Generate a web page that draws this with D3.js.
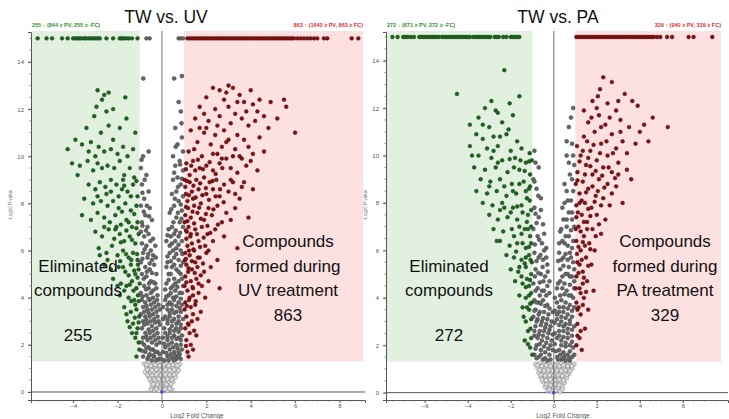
<!DOCTYPE html>
<html><head><meta charset="utf-8">
<script src="https://cdn.jsdelivr.net/npm/d3@7"></script>
<style>body{margin:0;background:#fff}svg{display:block}text{font-family:"Liberation Sans",Arial,sans-serif}</style>
</head><body><svg id="c" width="729" height="419"></svg>
<script>
// ---------- Panel 1: TW vs. UV ----------
const uvTitle = "TW vs. UV";
const uvDownLabel = "255 \u2193 (844 \u2265 PV, 255 \u2265 -FC)";
const uvUpLabel = "863 \u2191 (1643 \u2265 PV, 863 \u2265 FC)";
const uvLeftText = ["Eliminated", "compounds", "", "255"];
const uvRightText = ["Compounds", "formed during", "UV treatment", "863"];
const uvTopDownX = [-5.6,-5.2,-4.95,-4.5,-4.25,-4.0,-3.9,-3.8,-3.72,-3.62,-3.5,-3.42,-3.3,-3.2,-3.1,-3.0,-2.9,-2.8,-2.5,-2.2,-1.9,-1.82,-1.72,-1.62,-1.5,-1.35,-1.1];
const uvTopNsX = [-0.7,-0.55,0.75,0.85,0.95];
const uvTopUpX = [1.15,1.25,1.35,1.45,1.55,1.65,1.75,1.85,1.95,2.05,2.15,2.25,2.35,2.45,2.55,2.65,2.75,2.85,2.95,3.05,3.15,3.25,3.35,3.45,3.55,3.65,3.75,3.85,3.95,4.05,4.15,4.25,4.35,4.45,4.55,4.65,4.75,4.85,4.95,5.05,5.15,5.25,5.35,5.45,5.55,5.65,5.75,5.85,5.95,6.1,6.25,6.4,6.55,6.7,6.85,7.0,7.3,7.45,8.55,8.85];
const uvDown = [[-2.9,12.8],[-2.7,12.4],[-2.6,12.6],[-2.95,12.1],[-2.5,11.9],[-3.05,11.7],[-2.2,12.0],[-1.65,12.5],[-1.6,11.6],[-2.4,11.3],[-3.4,11.2],[-2.75,11.0],[-4.25,10.3],[-3.9,10.7],[-3.6,10.5],[-3.2,10.6],[-2.85,10.4],[-2.6,10.2],[-2.3,10.3],[-2.0,10.1],[-1.75,10.4],[-1.55,10.0],[-4.05,9.7],[-3.7,9.6],[-3.35,9.8],[-3.1,9.4],[-2.9,9.7],[-2.7,9.5],[-2.45,9.6],[-2.15,9.5],[-1.9,9.8],[-1.7,9.2],[-1.45,9.5],[-1.25,9.1],
[-3.3,8.8],[-3.0,8.6],[-2.8,8.9],[-2.55,8.7],[-2.3,8.5],[-2.05,8.8],[-1.8,8.6],[-1.55,8.5],[-1.3,8.8],[-1.1,8.3],[-3.5,8.2],[-3.1,8.0],[-2.75,8.1],[-2.45,7.9],[-2.2,8.1],[-1.95,7.8],[-1.65,8.0],[-1.4,7.7],[-1.15,7.9],[-3.6,7.5],[-3.2,7.3],[-2.9,7.6],[-2.6,7.4],[-2.35,7.2],[-2.1,7.5],[-1.85,7.1],[-1.6,7.3],[-1.35,7.0],[-1.1,7.2],[-3.0,6.8],[-2.7,6.6],[-2.4,6.9],[-2.15,6.5],[-1.9,6.7],[-1.7,6.4],[-1.45,6.6],[-1.2,6.3],[-1.05,6.7],[-2.85,6.1],[-2.5,5.9],[-2.25,6.2],[-2.0,5.8],[-1.75,6.0],[-1.5,5.7],[-1.3,5.9],[-1.1,5.6],[-2.6,5.4],[-2.3,5.2],[-1.95,5.3],[-1.65,5.1],[-1.4,5.4],[-1.2,5.0],[-1.05,5.2],
[-2.2,4.8],[-1.85,4.6],[-1.6,4.5],[-1.35,4.7],[-1.15,4.4],[-1.0,4.6],[-1.9,4.1],[-1.5,4.0],[-1.25,3.9],[-1.08,4.1],[-1.7,3.6],[-1.4,3.4],[-1.15,3.5],[-1.02,3.2],[-1.55,3.0],[-1.3,2.9],[-1.1,2.7],[-1.2,2.3],[-1.05,2.1],[-1.35,2.5],[-1.6,3.3],
[-1.15,8.95],[-1.4,8.3],[-1.7,8.75],[-1.95,8.3],[-1.25,7.55],[-1.5,7.2],[-1.8,7.65],[-2.05,7.0],[-1.15,6.95],[-1.35,6.45],[-1.6,6.85],[-1.85,6.35],[-2.1,6.9],[-1.12,5.85],[-1.38,5.6],[-1.62,5.85],[-1.88,5.55],[-1.08,5.4],[-1.25,5.15],[-1.5,4.95],[-1.75,5.3],[-1.1,4.85],[-1.28,4.3],[-1.45,4.55],[-1.7,4.3],[-1.05,3.85],[-1.2,3.7],[-1.38,3.85],[-1.05,2.95],[-1.22,3.15],[-1.45,2.75],[-1.15,2.5],[-1.02,1.8],[-1.15,1.5],[-2.3,9.0],[-2.5,8.4],[-2.9,8.3],[-3.0,10.0],[-2.2,10.7],[-1.9,11.2],[-2.4,12.7],[-3.3,10.2],[-3.8,9.2],[-2.6,7.0],[-2.45,5.6],[-2.8,5.8],[-2.0,4.5],[-1.75,9.0],[-1.3,10.3],[-1.2,11.0]];
const uvUp = [[2.3,12.9],[2.6,12.8],[3.2,12.9],[2.0,12.5],[2.8,12.4],[3.5,12.6],[4.0,12.8],[4.1,12.2],[3.7,12.3],[1.7,12.1],[2.4,12.0],[3.0,12.1],[3.3,11.8],[4.3,11.9],[4.6,11.7],[5.5,12.4],[5.6,12.1],[1.5,11.6],[2.1,11.5],[2.6,11.7],[3.1,11.4],[3.6,11.6],[3.9,11.3],[4.2,11.5],[4.8,11.2],[6.0,11.0],[1.3,11.1],[1.9,11.0],[2.4,10.9],[2.8,11.1],[3.4,10.9],[3.7,10.7],[4.4,10.8],[1.6,10.6],[2.2,10.5],[2.7,10.4],[3.0,10.7],[3.3,10.3],[3.9,10.4],[4.1,10.1],[1.2,10.2],[1.8,10.0],[2.5,10.1],[2.9,9.9],[3.5,10.0],[4.6,10.2],
[1.1,9.7],[1.4,9.8],[1.7,9.5],[2.0,9.6],[2.3,9.4],[2.6,9.7],[3.1,9.5],[3.4,9.3],[3.8,9.6],[4.3,9.4],[1.25,9.2],[1.55,9.0],[1.9,9.1],[2.15,8.9],[2.45,9.0],[2.8,8.8],[3.2,8.9],[3.6,8.7],[1.05,8.7],[1.35,8.5],[1.65,8.6],[2.0,8.4],[2.3,8.6],[2.6,8.3],[3.0,8.5],[3.5,8.2],[4.1,8.6],[1.15,8.1],[1.45,7.9],[1.75,8.0],[2.1,7.8],[2.5,7.9],[2.9,7.6],[3.3,7.8],[1.05,7.5],[1.3,7.4],[1.6,7.6],[1.9,7.3],[2.25,7.5],[2.7,7.2],[3.1,7.3],[3.9,7.4],[1.2,7.0],[1.5,6.9],[1.8,7.0],[2.05,6.7],[2.4,6.9],[2.8,6.6],[1.1,6.5],[1.35,6.3],[1.65,6.4],[1.95,6.2],[2.3,6.4],[3.4,6.1],
[1.05,5.9],[1.25,5.8],[1.45,6.0],[1.7,5.7],[2.0,5.9],[2.5,5.6],[1.1,5.4],[1.35,5.2],[1.6,5.3],[1.9,5.1],[2.2,5.3],[1.05,4.9],[1.3,4.7],[1.55,4.8],[1.8,4.5],[2.1,4.7],[2.6,4.4],[1.15,4.3],[1.4,4.1],[1.65,4.2],[1.95,4.0],[1.05,3.8],[1.3,3.6],[1.5,3.7],[1.75,3.4],[1.1,3.2],[1.35,3.0],[1.6,3.1],[1.05,2.7],[1.25,2.5],[1.45,2.6],[1.1,2.2],[1.3,2.0],[1.15,1.7],
[1.02,9.0],[1.08,8.4],[1.18,7.8],[1.02,7.2],[1.12,6.8],[1.22,6.0],[1.04,5.6],[1.18,5.1],[1.02,4.5],[1.22,3.9],[1.02,3.5],[1.18,2.9],[1.4,4.4],[1.5,5.5],[1.3,6.7],[1.4,8.2],[1.25,8.9],[1.5,9.4],
[1.08,9.45],[1.32,9.6],[1.62,9.85],[1.85,9.45],[2.15,9.75],[2.42,9.25],[2.72,9.5],[1.12,8.95],[1.42,8.75],[1.72,8.85],[1.98,8.65],[2.28,8.95],[2.62,8.6],[1.22,8.35],[1.52,8.25],[1.82,8.35],[2.12,8.15],[2.42,8.3],[2.78,8.05],[1.08,7.85],[1.38,7.65],[1.68,7.82],[1.98,7.55],[2.32,7.75],[1.15,7.25],[1.45,7.15],[1.75,7.35],[2.05,7.05],[2.52,7.1],[1.08,6.85],[1.28,6.6],[1.58,6.7],[1.88,6.55],[2.18,6.75],[1.15,6.2],[1.42,6.05],[1.72,6.15],[2.1,6.0],[1.08,5.65],[1.35,5.55],[1.62,5.7],[1.85,5.45],[1.2,5.25],[1.48,5.05],[1.75,4.95],[1.1,4.65],[1.38,4.45],[1.65,4.6],[1.25,4.0],[1.52,3.85],[1.12,3.65],[1.4,3.3],[1.2,2.85],[1.55,2.4],[1.08,1.95],[1.2,1.5],[1.4,1.8],[2.9,10.6],[3.2,10.0],[3.6,9.9],[2.5,11.3],[2.0,11.2],[3.8,11.9],[4.4,12.4],[2.9,12.7],[3.4,12.3],[1.9,11.8],[2.7,9.9],[3.1,9.0],[3.7,8.9],[4.0,9.8],[3.3,8.4],[2.3,10.1],[1.45,10.3],[1.7,11.2],[5.2,11.6],[4.9,12.3],[3.0,13.0]];
const uvSig = [[-0.84,13.3],[0.55,13.3],[0.9,13.4],[0.75,12.3],[0.85,11.9],[0.6,11.2],[0.9,10.8],[0.7,10.5],[-0.85,10.0],[-0.6,10.2],[0.95,10.2],[0.5,10.0],
[-0.95,9.5],[-0.7,9.2],[-0.9,8.8],[-0.6,8.5],[-0.8,8.2],[-0.95,7.9],[-0.55,7.8],[-0.75,7.5],[-0.9,7.2],[-0.45,7.3],[-0.65,7.0],
[0.8,9.8],[0.6,9.6],[0.95,9.4],[0.7,9.1],[0.5,9.0],[0.85,8.8],[0.65,8.5],[0.95,8.3],[0.45,8.4],[0.75,8.1],[0.55,7.9],[0.9,7.7],[0.35,7.6],[0.65,7.4],[0.8,7.2],[0.45,7.0],[0.95,7.0],
[-0.95,6.8],[-0.8,6.6],[-0.6,6.7],[-0.4,6.5],[-0.9,6.3],[-0.7,6.2],[-0.5,6.0],[-0.3,6.2],[-0.85,5.9],[-0.65,5.7],[-0.45,5.6],[-0.95,5.5],[-0.75,5.3],[-0.55,5.2],[-0.35,5.4],[-0.25,5.0],[-0.9,5.0],[-0.7,4.9],[-0.5,4.7],[-0.8,4.5],[-0.6,4.4],[-0.4,4.3],[-0.3,4.6],[-0.95,4.2],[-0.7,4.1],[-0.2,4.1],
[0.3,6.9],[0.55,6.7],[0.75,6.6],[0.9,6.4],[0.2,6.4],[0.45,6.3],[0.65,6.1],[0.85,6.0],[0.35,5.9],[0.55,5.7],[0.75,5.6],[0.95,5.5],[0.25,5.5],[0.45,5.3],[0.65,5.2],[0.85,5.0],[0.3,5.0],[0.55,4.8],[0.75,4.7],[0.95,4.5],[0.2,4.6],[0.4,4.4],[0.6,4.3],[0.8,4.2],[0.3,4.1],[0.5,4.0],
[-0.9,3.9],[-0.75,3.8],[-0.55,3.9],[-0.35,3.8],[-0.15,3.7],[-0.85,3.6],[-0.65,3.5],[-0.45,3.5],[-0.25,3.4],[-0.95,3.3],[-0.75,3.2],[-0.55,3.2],[-0.35,3.1],[-0.15,3.0],[-0.85,3.0],[-0.65,2.9],[-0.45,2.8],[-0.25,2.7],[-0.9,2.7],[-0.75,2.5],[-0.55,2.5],[-0.35,2.4],[-0.15,2.3],[-0.85,2.3],[-0.65,2.2],[-0.45,2.1],[-0.25,2.0],[-0.8,2.0],[-0.6,1.9],[-0.4,1.8],[-0.2,1.7],[-0.75,1.7],[-0.55,1.6],[-0.35,1.5],[-0.15,1.4],[-0.65,1.4],[-0.45,1.35],[-0.85,1.5],
[0.15,3.9],[0.35,3.8],[0.55,3.9],[0.75,3.8],[0.9,3.7],[0.25,3.5],[0.45,3.5],[0.65,3.4],[0.85,3.4],[0.15,3.2],[0.35,3.2],[0.55,3.1],[0.75,3.0],[0.95,3.1],[0.25,2.9],[0.45,2.8],[0.65,2.7],[0.85,2.7],[0.15,2.5],[0.35,2.5],[0.55,2.4],[0.75,2.3],[0.9,2.4],[0.25,2.2],[0.45,2.1],[0.65,2.0],[0.85,2.0],[0.15,1.9],[0.35,1.8],[0.55,1.7],[0.75,1.7],[0.25,1.5],[0.45,1.45],[0.65,1.4],[0.85,1.4],[0.1,1.35],
[-0.92,9.85],[-0.78,9.0],[-0.88,8.45],[-0.68,7.9],[-0.82,7.65],[-0.58,7.45],[-0.88,7.05],[-0.72,6.85],[-0.52,6.4],[-0.78,6.05],[-0.62,5.85],[-0.4,5.8],[-0.88,5.65],[-0.55,5.45],[-0.28,5.7],[-0.68,5.1],[-0.45,5.05],[-0.82,4.8],[-0.58,4.6],[-0.38,4.65],[-0.72,4.35],[-0.5,4.2],[-0.25,4.4],[-0.88,4.05],[-0.6,3.95],[-0.4,4.0],[-0.22,3.9],[-0.7,3.65],[-0.5,3.7],[-0.3,3.6],[-0.1,3.5],[-0.8,3.4],[-0.6,3.35],[-0.4,3.3],[-0.2,3.2],[-0.7,3.05],[-0.5,3.0],[-0.3,2.95],[-0.1,2.85],[-0.8,2.85],[-0.6,2.65],[-0.4,2.6],[-0.2,2.5],[-0.7,2.35],[-0.5,2.3],[-0.3,2.2],[-0.1,2.1],[-0.9,2.1],[-0.7,1.85],[-0.5,1.8],[-0.3,1.7],[-0.1,1.6],[-0.9,1.75],[-0.6,1.5],[-0.4,1.55],[-0.25,1.35],[-0.05,1.4],
[0.88,11.4],[0.62,10.4],[0.82,9.65],[0.55,9.3],[0.9,9.05],[0.72,8.7],[0.58,8.2],[0.85,7.95],[0.42,7.75],[0.72,7.6],[0.52,7.2],[0.88,7.35],[0.62,6.85],[0.4,6.6],[0.82,6.75],[0.25,6.65],[0.6,6.4],[0.35,6.2],[0.75,6.25],[0.5,6.0],[0.92,5.85],[0.25,5.75],[0.65,5.85],[0.4,5.55],[0.85,5.35],[0.55,5.4],[0.2,5.3],[0.75,5.1],[0.4,5.0],[0.6,4.6],[0.9,4.8],[0.3,4.75],[0.5,4.5],[0.7,4.45],[0.15,4.35],[0.9,4.2],[0.4,4.2],[0.65,4.05],[0.2,4.05],[0.85,3.95],[0.45,3.7],[0.25,3.7],[0.65,3.65],[0.05,3.6],[0.8,3.55],[0.35,3.35],[0.55,3.35],[0.75,3.2],[0.05,3.1],[0.25,3.05],[0.45,3.0],[0.65,2.9],[0.85,2.85],[0.1,2.7],[0.35,2.65],[0.55,2.6],[0.75,2.55],[0.05,2.3],[0.25,2.35],[0.45,2.3],[0.65,2.25],[0.85,2.2],[0.1,2.05],[0.3,2.0],[0.5,1.9],[0.7,1.85],[0.9,1.8],[0.05,1.7],[0.2,1.65],[0.4,1.6],[0.6,1.55],[0.8,1.6],[0.3,1.35],[0.55,1.35],[0.75,1.5]];
const uvNs = [[-0.8,1.2],[-0.6,1.25],[-0.4,1.2],[-0.2,1.25],[0.0,1.2],[0.2,1.22],[0.4,1.25],[0.6,1.2],[0.8,1.18],[-0.7,1.05],[-0.5,1.0],[-0.3,1.05],[-0.1,1.0],[0.1,1.05],[0.3,1.0],[0.5,1.05],[0.7,1.0],[-0.75,0.85],[-0.55,0.8],[-0.35,0.85],[-0.15,0.8],[0.05,0.85],[0.25,0.8],[0.45,0.85],[0.65,0.8],[-0.6,0.65],[-0.4,0.6],[-0.2,0.65],[0.0,0.6],[0.2,0.65],[0.4,0.6],[0.6,0.62],[-0.5,0.45],[-0.3,0.4],[-0.1,0.45],[0.1,0.4],[0.3,0.45],[0.5,0.42],[-0.45,0.25],[-0.25,0.2],[-0.05,0.25],[0.15,0.2],[0.35,0.25],[0.45,0.1],[-0.35,0.08],[-0.15,0.05],[0.05,0.08],[0.25,0.05],[-0.5,0.1],
[-0.7,1.15],[-0.5,1.12],[-0.3,1.15],[-0.1,1.12],[0.1,1.15],[0.3,1.12],[0.5,1.15],[0.7,1.12],[-0.65,0.95],[-0.45,0.92],[-0.25,0.95],[-0.05,0.92],[0.15,0.95],[0.35,0.92],[0.55,0.95],[0.75,0.92],[-0.65,0.72],[-0.45,0.72],[-0.25,0.74],[-0.05,0.72],[0.15,0.74],[0.35,0.72],[0.55,0.74],[-0.55,0.55],[-0.35,0.52],[-0.15,0.55],[0.05,0.52],[0.25,0.55],[0.45,0.52],[-0.4,0.33],[-0.2,0.32],[0.0,0.34],[0.2,0.32],[0.4,0.34],[-0.25,0.12],[0.15,0.12],[0.35,0.14]];

// ---------- Panel 2: TW vs. PA ----------
const paTitle = "TW vs. PA";
const paDownLabel = "272 \u2193 (671 \u2265 PV, 272 \u2265 -FC)";
const paUpLabel = "329 \u2191 (940 \u2265 PV, 329 \u2265 FC)";
const paLeftText = ["Eliminated", "compounds", "", "272"];
const paRightText = ["Compounds", "formed during", "PA treatment", "329"];
const paTopDownX = [-7.5,-7.26,-7.0,-6.9,-6.8,-6.65,-6.5,-6.25,-6.15,-6.05,-5.95,-5.85,-5.75,-5.65,-5.55,-5.45,-5.35,-5.2,-5.1,-5.0,-4.9,-4.8,-4.7,-4.6,-4.5,-4.4,-4.3,-4.2,-4.1,-4.0,-3.9,-3.75,-3.65,-3.55,-3.45,-3.35,-3.25,-3.15,-3.05,-2.95,-2.75,-2.65,-2.55,-2.35,-2.2,-2.0,-1.9,-1.8,-1.7,-1.6];
const paTopNsX = [];
const paTopUpX = [1.05,1.15,1.25,1.35,1.45,1.55,1.65,1.75,1.85,1.95,2.05,2.15,2.25,2.35,2.45,2.55,2.65,2.75,2.85,2.95,3.05,3.15,3.25,3.35,3.45,3.55,3.65,3.75,3.85,3.95,4.05,4.15,4.25,4.35,4.45,4.55,4.65,4.8,4.95,5.27,5.5,6.27,6.5,7.37];
const paDown = [[-4.5,12.6],[-2.3,13.6],[-3.2,12.0],[-2.9,12.3],[-3.5,11.6],[-2.6,11.8],[-3.9,11.3],[-3.0,11.2],[-2.4,11.4],[-1.9,11.7],[-3.6,10.9],[-3.3,10.7],[-2.8,10.8],[-2.2,10.9],[-1.7,10.6],[-3.9,10.4],[-3.1,10.3],[-2.6,10.4],[-2.0,10.2],[-1.5,10.3],[-3.5,10.0],[-2.9,9.9],[-2.4,9.8],[-1.8,9.9],[-1.3,9.7],[-3.7,9.5],[-3.2,9.4],[-2.7,9.5],[-2.15,9.3],[-1.6,9.4],[-1.1,9.2],[-3.4,9.0],[-2.95,8.9],[-2.5,9.0],[-1.95,8.8],[-1.4,8.9],[-3.6,8.5],[-3.1,8.4],[-2.65,8.5],[-2.2,8.3],[-1.75,8.4],[-1.25,8.2],[-3.3,8.0],[-2.85,7.9],[-2.4,8.0],[-1.9,7.8],[-1.5,7.9],[-1.05,7.7],[-3.0,7.5],[-2.6,7.3],[-2.15,7.4],[-1.7,7.3],[-1.25,7.2],[-2.8,6.9],[-2.35,6.8],[-1.95,6.9],[-1.5,6.7],[-1.1,6.6],[-2.5,6.4],[-2.05,6.2],[-1.7,6.3],[-1.3,6.1],[-1.05,6.3],[-2.2,5.8],[-1.85,5.7],[-1.5,5.6],[-1.15,5.8],[-2.0,5.2],[-1.65,5.1],[-1.3,5.3],[-1.05,5.0],[-1.8,4.7],[-1.45,4.6],[-1.15,4.5],[-1.6,4.1],[-1.3,4.0],[-1.05,4.2],[-1.45,3.6],[-1.15,3.5],[-1.3,3.0],[-1.05,3.1],[-1.2,2.6],[-1.05,2.3],[-1.35,2.2],[-1.1,1.9],[-1.0,1.6],
[-1.02,9.8],[-1.15,8.6],[-1.05,7.0],[-1.2,6.9],[-1.02,5.5],[-1.25,4.8],[-1.02,3.8],[-1.15,4.1],[-1.3,5.7],[-1.12,10.1],
[-1.15,9.75],[-1.35,9.35],[-1.55,9.8],[-1.85,9.5],[-2.05,9.85],[-1.1,8.7],[-1.3,8.5],[-1.6,8.8],[-1.9,8.5],[-2.3,8.7],[-1.12,8.1],[-1.45,7.6],[-1.7,7.85],[-2.0,7.6],[-2.3,7.8],[-1.2,7.5],[-1.35,6.9],[-1.6,7.0],[-1.85,6.6],[-1.15,6.15],[-1.45,6.3],[-1.75,5.95],[-1.08,5.6],[-1.35,5.45],[-1.6,5.3],[-1.1,4.75],[-1.3,4.45],[-1.5,4.9],[-1.1,3.75],[-1.25,3.6],[-1.4,3.2],[-1.08,2.7],[-1.2,2.05],[-2.6,9.7],[-2.8,10.2],[-3.0,8.7],[-2.5,10.8],[-2.1,11.1],[-3.3,11.3],[-3.8,10.0],[-2.7,11.9],[-2.05,12.2],[-1.6,12.5],[-2.5,7.7],[-2.65,6.4]];
const paUp = [[2.3,13.3],[2.7,13.1],[2.15,12.8],[3.3,12.6],[3.65,12.3],[1.8,12.3],[2.5,12.2],[4.6,11.6],[5.3,11.2],[2.9,11.9],[2.1,11.7],[3.1,11.5],[1.6,11.4],[2.4,11.3],[3.5,11.2],[1.9,11.0],[2.7,10.9],[3.2,10.6],[1.4,10.8],[2.2,10.5],[2.9,10.3],[3.8,10.5],[1.7,10.2],[2.5,10.0],[1.25,10.0],[2.0,9.8],[3.0,9.7],[1.5,9.6],[2.3,9.5],[2.7,9.3],[3.4,9.4],[1.1,9.3],[1.8,9.2],[2.1,9.0],[2.5,8.8],[1.35,8.9],[1.6,8.6],[2.9,8.7],[1.2,8.4],[1.95,8.3],[2.3,8.2],[1.45,8.0],[1.75,7.8],[2.6,7.9],[1.05,7.9],[1.3,7.5],[2.0,7.5],[2.4,7.3],[1.55,7.2],[1.15,7.0],[1.8,6.9],[2.2,6.7],[1.4,6.6],[1.05,6.4],[1.65,6.3],[1.9,6.0],[1.25,6.0],[1.5,5.7],[1.1,5.5],[1.75,5.4],[1.35,5.1],[1.05,4.9],[1.55,4.7],[1.2,4.4],[1.85,4.3],[1.4,4.0],[1.05,3.8],[1.6,3.5],[1.25,3.3],[1.1,2.9],[1.45,2.7],[1.2,2.3],[1.05,2.0],[1.3,1.8],[3.6,9.0],[4.0,11.0],[2.05,12.5],
[1.02,8.8],[1.12,7.6],[1.02,6.9],[1.2,5.4],[1.02,4.4],[1.15,3.6],[1.35,4.6],[1.45,6.2],[1.3,8.1],[1.6,9.9],
[1.08,10.4],[1.35,10.2],[1.55,10.6],[1.85,10.45],[2.15,10.1],[2.45,10.6],[2.75,10.1],[1.2,9.75],[1.45,9.2],[1.7,9.55],[1.95,9.35],[2.25,9.15],[2.55,9.5],[2.85,9.05],[1.1,8.95],[1.5,8.45],[1.8,8.7],[2.05,8.5],[2.35,8.65],[2.7,8.4],[1.2,8.0],[1.6,7.75],[1.9,8.05],[2.2,7.9],[1.05,7.4],[1.4,7.2],[1.7,7.45],[2.1,7.1],[1.25,6.8],[1.55,6.9],[1.95,6.6],[1.15,6.15],[1.35,6.35],[1.7,6.05],[1.08,5.85],[1.3,5.6],[1.6,5.35],[1.15,5.05],[1.4,4.85],[1.25,4.2],[1.5,4.25],[1.1,3.5],[1.35,3.7],[1.25,2.6],[1.1,2.4],[3.1,11.0],[2.6,11.6],[3.0,12.3],[1.4,11.9],[2.0,12.0],[3.9,12.1],[4.2,11.3],[3.4,10.1],[2.2,11.2],[1.75,11.6],[3.0,9.2],[3.2,8.0],[4.4,10.6]];
const paSig = [[-0.9,10.2],[-0.7,9.5],[0.9,12.0],[0.7,11.2],[0.85,10.5],[0.6,10.0],[0.95,9.6],
[-0.95,9.0],[-0.8,8.6],[-0.6,8.2],[-0.9,7.8],[-0.7,7.4],[-0.5,7.1],[-0.95,6.9],[-0.75,6.6],[-0.55,6.3],[-0.35,6.1],
[0.75,9.2],[0.5,8.8],[0.9,8.5],[0.65,8.1],[0.4,7.8],[0.85,7.6],[0.6,7.3],[0.95,7.0],[0.35,6.9],[0.7,6.6],[0.5,6.3],[0.85,6.1],
[-0.9,5.9],[-0.7,5.7],[-0.5,5.6],[-0.3,5.4],[-0.85,5.2],[-0.6,5.0],[-0.4,4.9],[-0.2,4.7],[-0.95,4.6],[-0.75,4.4],[-0.55,4.3],[-0.35,4.1],
[0.25,5.9],[0.45,5.7],[0.65,5.6],[0.9,5.5],[0.3,5.2],[0.55,5.0],[0.75,4.9],[0.95,4.7],[0.2,4.6],[0.4,4.4],[0.6,4.3],[0.8,4.1],
[-0.9,3.9],[-0.7,3.8],[-0.5,3.9],[-0.3,3.7],[-0.85,3.5],[-0.65,3.4],[-0.45,3.4],[-0.25,3.3],[-0.95,3.2],[-0.75,3.1],[-0.55,3.0],[-0.35,2.9],[-0.15,2.8],[-0.85,2.8],[-0.65,2.6],[-0.45,2.6],[-0.25,2.5],[-0.9,2.4],[-0.75,2.3],[-0.55,2.2],[-0.35,2.1],[-0.15,2.0],[-0.8,2.0],[-0.6,1.8],[-0.4,1.7],[-0.2,1.6],[-0.7,1.5],[-0.5,1.4],[-0.3,1.35],[-0.9,1.6],
[0.15,3.8],[0.35,3.9],[0.55,3.8],[0.75,3.7],[0.95,3.6],[0.25,3.4],[0.45,3.4],[0.65,3.3],[0.85,3.2],[0.15,3.1],[0.35,3.0],[0.55,2.9],[0.75,2.9],[0.95,2.8],[0.25,2.6],[0.45,2.6],[0.65,2.5],[0.85,2.4],[0.15,2.3],[0.35,2.2],[0.55,2.1],[0.75,2.0],[0.9,1.9],[0.25,1.8],[0.45,1.7],[0.65,1.6],[0.85,1.5],[0.15,1.5],[0.35,1.4],[0.55,1.35],[0.75,1.35],
[-0.85,9.7],[-0.9,8.9],[-0.72,8.3],[-0.85,7.55],[-0.6,7.7],[-0.8,7.15],[-0.45,6.7],[-0.68,6.45],[-0.88,6.25],[-0.45,6.0],[-0.62,5.8],[-0.8,5.55],[-0.35,5.7],[-0.52,5.3],[-0.72,5.05],[-0.28,5.1],[-0.48,4.7],[-0.88,4.9],[-0.65,4.65],[-0.3,4.5],[-0.85,4.3],[-0.45,4.3],[-0.65,4.1],[-0.2,4.2],[-0.8,3.8],[-0.6,3.75],[-0.4,3.65],[-0.2,3.55],[-0.05,3.4],[-0.9,3.45],[-0.7,3.3],[-0.5,3.15],[-0.3,3.1],[-0.1,3.0],[-0.8,3.0],[-0.6,2.85],[-0.4,2.75],[-0.2,2.65],[-0.05,2.45],[-0.9,2.6],[-0.7,2.45],[-0.5,2.4],[-0.3,2.3],[-0.1,2.2],[-0.65,2.05],[-0.45,1.95],[-0.25,1.85],[-0.05,1.8],[-0.85,1.85],[-0.8,1.45],[-0.6,1.6],[-0.4,1.45],[-0.15,1.4],
[0.8,11.6],[0.6,10.6],[0.9,10.0],[0.7,9.7],[0.85,9.0],[0.6,8.5],[0.8,8.1],[0.5,8.0],[0.7,7.6],[0.45,7.3],[0.85,7.3],[0.6,7.0],[0.3,6.8],[0.8,6.85],[0.55,6.6],[0.9,6.4],[0.4,6.4],[0.65,6.2],[0.25,6.3],[0.75,5.9],[0.55,5.85],[0.35,5.6],[0.8,5.7],[0.2,5.55],[0.45,5.35],[0.7,5.3],[0.95,5.2],[0.65,5.0],[0.4,4.9],[0.85,4.9],[0.3,4.7],[0.5,4.6],[0.75,4.55],[0.15,4.4],[0.95,4.4],[0.5,4.15],[0.3,4.1],[0.7,4.1],[0.05,4.0],[0.9,4.0],[0.25,3.6],[0.45,3.6],[0.65,3.55],[0.85,3.45],[0.05,3.45],[0.15,3.3],[0.35,3.2],[0.55,3.15],[0.75,3.05],[0.05,2.95],[0.25,2.85],[0.45,2.8],[0.65,2.7],[0.85,2.65],[0.05,2.5],[0.25,2.4],[0.45,2.35],[0.65,2.3],[0.85,2.15],[0.05,2.05],[0.35,2.0],[0.55,1.95],[0.75,1.75],[0.1,1.75],[0.3,1.6],[0.5,1.55],[0.95,1.6],[0.2,1.4],[0.45,1.45],[0.7,1.45]];
const paNs = [[-0.85,1.2],[-0.65,1.25],[-0.45,1.2],[-0.25,1.25],[-0.05,1.2],[0.15,1.22],[0.35,1.25],[0.55,1.2],[0.75,1.18],[0.95,1.2],[-0.75,1.05],[-0.55,1.0],[-0.35,1.05],[-0.15,1.0],[0.05,1.05],[0.25,1.0],[0.45,1.05],[0.65,1.0],[0.85,1.02],[-0.7,0.85],[-0.5,0.8],[-0.3,0.85],[-0.1,0.8],[0.1,0.85],[0.3,0.8],[0.5,0.85],[0.7,0.8],[-0.6,0.65],[-0.4,0.6],[-0.2,0.65],[0.0,0.6],[0.2,0.65],[0.4,0.6],[0.6,0.62],[-0.5,0.45],[-0.3,0.4],[-0.1,0.45],[0.1,0.4],[0.3,0.45],[0.5,0.42],[-0.4,0.25],[-0.2,0.2],[0.0,0.25],[0.2,0.2],[0.4,0.25],[-0.3,0.08],[-0.1,0.05],[0.1,0.08],[0.3,0.05],
[-0.75,1.15],[-0.55,1.12],[-0.35,1.15],[-0.15,1.12],[0.05,1.15],[0.25,1.12],[0.45,1.15],[0.65,1.12],[0.85,1.12],[-0.65,0.95],[-0.45,0.92],[-0.25,0.95],[-0.05,0.92],[0.15,0.95],[0.35,0.92],[0.55,0.95],[0.75,0.92],[-0.6,0.74],[-0.4,0.72],[-0.2,0.74],[0.0,0.72],[0.2,0.74],[0.4,0.72],[0.6,0.74],[-0.55,0.54],[-0.35,0.52],[-0.15,0.55],[0.05,0.52],[0.25,0.55],[0.45,0.52],[-0.35,0.34],[-0.15,0.32],[0.05,0.34],[0.25,0.32],[0.4,0.14],[-0.2,0.12]];

const xTicksUV = [-4,-2,0,2,4,6,8];
const xTicksPA = [-6,-4,-2,0,2,4,6];
const yTicks = [0,2,4,6,8,10,12,14];
const capY = 15, pThresh = 1.3, fcThresh = 1;

const svg = d3.select("#c");
const C = {down:"#1f6420", up:"#7e1214", sig:"#666", sigS:"#444", ns:"#dedede", nsS:"#777",
  shadeG:"#e2f0df", shadeR:"#fde0e0", axis:"#555"};

function panel(o){
  const g = svg.append("g");
  const x = d3.scaleLinear().domain(o.xd).range(o.xr);
  const y = d3.scaleLinear().domain(o.yd).range([400, 32]);
  const top = 31;
  g.append("rect").attr("x", o.xr[0]).attr("y", top).attr("width", x(-fcThresh)-o.xr[0])
    .attr("height", y(pThresh)-top).attr("fill", C.shadeG);
  g.append("rect").attr("x", x(fcThresh)).attr("y", top).attr("width", o.shadeR - x(fcThresh))
    .attr("height", y(pThresh)-top).attr("fill", C.shadeR);
  g.append("line").attr("x1", o.xr[0]).attr("x2", o.xr[1]).attr("y1", y(0)).attr("y2", y(0))
    .attr("stroke", "#555").attr("stroke-width", 1);
  const xa = g.append("g").attr("transform","translate(0,400)")
    .call(d3.axisBottom(x).tickValues(o.xt).tickSize(3).tickFormat(d3.format("d")));
  const minorX = d3.range(Math.ceil(o.xd[0]*2)/2, o.xd[1], 0.5);
  g.append("g").attr("transform","translate(0,400)").selectAll("line").data(minorX).join("line")
    .attr("x1", d=>x(d)).attr("x2", d=>x(d)).attr("y1",0).attr("y2",2).attr("stroke","#777").attr("stroke-width",0.6);
  const ya = g.append("g").attr("transform",`translate(${o.xr[0]},0)`)
    .call(d3.axisLeft(y).tickValues(yTicks).tickSize(3).tickFormat(d3.format("d")));
  g.append("g").attr("transform",`translate(${o.xr[0]},0)`).selectAll("line")
    .data(d3.range(0, 15.01, 0.5)).join("line")
    .attr("x1",-2).attr("x2",0).attr("y1",d=>y(d)).attr("y2",d=>y(d)).attr("stroke","#777").attr("stroke-width",0.6);
  [xa, ya].forEach(a=>{
    a.select(".domain").attr("stroke", C.axis);
    a.selectAll(".tick line").attr("stroke", C.axis);
    a.selectAll(".tick text").attr("fill","#555").style("font-size","6px");
  });
  ya.selectAll(".tick text").attr("x",-7);
  xa.selectAll(".tick text").attr("y",4);
  g.append("text").attr("x", o.labelX).attr("y", 418).attr("text-anchor","middle")
    .attr("fill","#555").style("font-size","6.5px").text("Log2 Fold Change");
  g.append("text").attr("transform",`translate(${o.xr[0]-19},205) rotate(-90)`).attr("text-anchor","middle")
    .attr("fill","#777").style("font-size","4.5px").text("-Log10 P-value");
  const dot = (data, fill, stroke, r) => g.append("g").selectAll("circle").data(data).join("circle")
    .attr("cx", d=>x(d[0])).attr("cy", d=>y(d[1])).attr("r", r)
    .attr("fill", fill).attr("stroke", stroke).attr("stroke-width", 0.5);
  dot(o.ns, C.ns, C.nsS, 2.1);
  dot(o.sig, C.sig, C.sigS, 2.0);
  dot(o.down, C.down, "#154515", 1.9);
  dot(o.up, C.up, "#5a0c0c", 1.9);
  dot(o.topNs.map(v=>[v,capY]), C.sig, C.sigS, 1.9);
  dot(o.topDown.map(v=>[v,capY]), C.down, "#154515", 1.9);
  dot(o.topUp.map(v=>[v,capY]), C.up, "#5a0c0c", 1.9);
  g.append("line").attr("x1", x(0)).attr("x2", x(0)).attr("y1", top).attr("y2", 400)
    .attr("stroke", "#555").attr("stroke-width", 1).attr("opacity",0.8);
  g.append("circle").attr("cx", x(0)).attr("cy", y(0)).attr("r", 1.8).attr("fill","#3b5bd6");
  g.append("text").attr("x", o.xr[0]+1).attr("y", 27).attr("fill","#2f8f2f").style("font-size","5.5px")
    .style("font-weight","bold").text(o.downLabel);
  g.append("text").attr("x", o.shadeR).attr("y", 27).attr("text-anchor","end").attr("fill","#e03030")
    .style("font-size","5.5px").style("font-weight","bold").text(o.upLabel);
  g.append("text").attr("x", o.titleX).attr("y", 23).attr("text-anchor","middle").attr("fill","#111")
    .style("font-size","17.5px").text(o.title);
  o.leftText.forEach((t,i)=> g.append("text").attr("x", o.leftX).attr("y", [272,296,320,341][i])
    .attr("text-anchor","middle").attr("fill","#111").style("font-size","17px").text(t));
  o.rightText.forEach((t,i)=> g.append("text").attr("x", o.rightX).attr("y", 247 + 24.5*i)
    .attr("text-anchor","middle").attr("fill","#111").style("font-size","17px").text(t));
}

panel({xd:[-5.9,9.15], xr:[31,365], yd:[-0.34,15.27], xt:xTicksUV, shadeR:363, labelX:197,
  down:uvDown, up:uvUp, sig:uvSig, ns:uvNs, topDown:uvTopDownX, topUp:uvTopUpX, topNs:uvTopNsX,
  downLabel:uvDownLabel, upLabel:uvUpLabel, title:uvTitle, titleX:166,
  leftText:uvLeftText, rightText:uvRightText, leftX:78, rightX:288});
panel({xd:[-7.8,8.1], xr:[386,728], yd:[-0.31,15.21], xt:xTicksPA, shadeR:721, labelX:563,
  down:paDown, up:paUp, sig:paSig, ns:paNs, topDown:paTopDownX, topUp:paTopUpX, topNs:paTopNsX,
  downLabel:paDownLabel, upLabel:paUpLabel, title:paTitle, titleX:558,
  leftText:paLeftText, rightText:paRightText, leftX:449, rightX:665});
</script></body></html>
